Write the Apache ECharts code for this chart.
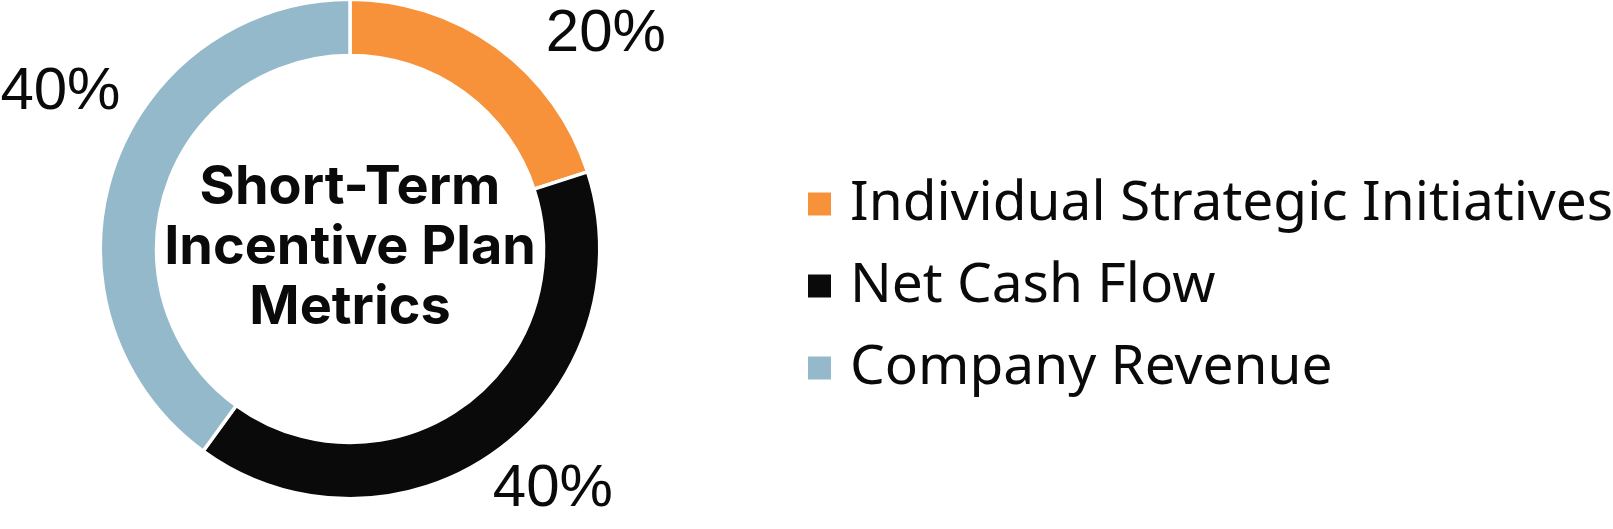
<!DOCTYPE html>
<html>
<head>
<meta charset="utf-8">
<style>
  html, body { margin: 0; padding: 0; background: #ffffff; }
  #chart { width: 1613px; height: 529px; }
</style>
<script src="https://cdn.jsdelivr.net/npm/echarts@6/dist/echarts.min.js"></script>
</head>
<body>
<div id="chart"></div>
<script>
// ---- data ----
const categories = ['Individual Strategic Initiatives', 'Net Cash Flow', 'Company Revenue'];
const values = [20, 40, 40];
const colors = ['#F7923B', '#0A0A0A', '#94B9CB'];
const centerTitle = 'Short-Term\nIncentive Plan\nMetrics';

// label nudges (styling) per slice
const labelNudge = [[44, -12], [-9, 38], [13, -79]];

const chart = echarts.init(document.getElementById('chart'), null, { renderer: 'canvas' });

const option = {
  animation: false,
  backgroundColor: '#ffffff',
  title: {
    text: centerTitle,
    left: 350,
    top: 248,
    textAlign: 'center',
    textVerticalAlign: 'middle',
    padding: 0,
    textStyle: {
      fontFamily: 'Inter',
      fontWeight: 700,
      fontSize: 54,
      lineHeight: 60,
      color: '#0a0a0a'
    }
  },
  legend: {
    orient: 'vertical',
    left: 806,
    top: 174,
    padding: 0,
    itemWidth: 25,
    itemHeight: 25,
    itemGap: 22,
    icon: 'rect',
    data: categories,
    textStyle: {
      fontFamily: 'Noto Sans',
      fontSize: 55,
      lineHeight: 60,
      color: '#0a0a0a',
      padding: [0, 0, 0, 13]
    }
  },
  series: [{
    type: 'pie',
    center: [350, 249],
    radius: [193.5, 249.75],
    startAngle: 90,
    clockwise: true,
    avoidLabelOverlap: false,
    itemStyle: {
      borderColor: '#ffffff',
      borderWidth: 3.5
    },
    label: {
      show: true,
      position: 'outside',
      formatter: '{c}%',
      fontFamily: 'Liberation Sans',
      fontSize: 60,
      color: '#0a0a0a'
    },
    labelLine: { show: false, length: 0, length2: 0 },
    labelLayout: function (p) {
      const n = labelNudge[p.dataIndex];
      return { dx: n[0], dy: n[1] };
    },
    emphasis: { disabled: true },
    data: categories.map((name, i) => ({
      name: name,
      value: values[i],
      itemStyle: { color: colors[i] }
    }))
  }]
};

chart.setOption(option);
</script>
</body>
</html>
